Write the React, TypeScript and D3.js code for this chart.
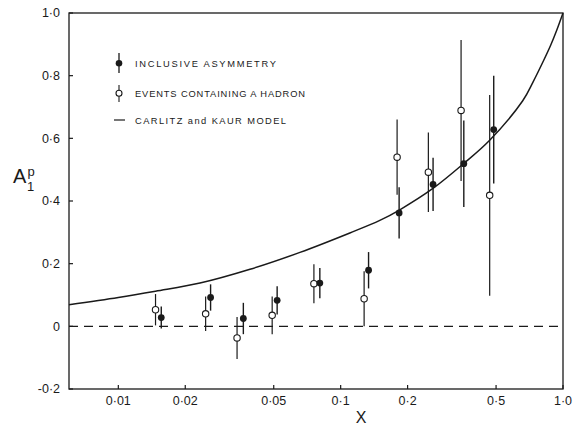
import React from "react";
import * as d3 from "d3";

const inclX = [0.0156, 0.026, 0.0365, 0.0518, 0.0806, 0.1335, 0.1832, 0.2604, 0.358, 0.488];
const inclY = [0.028, 0.092, 0.025, 0.083, 0.138, 0.179, 0.362, 0.453, 0.519, 0.628];
const inclErr = [0.035, 0.042, 0.05, 0.045, 0.048, 0.058, 0.082, 0.085, 0.138, 0.172];

const hadX = [0.0147, 0.0247, 0.0342, 0.0492, 0.0758, 0.1275, 0.1794, 0.248, 0.348, 0.468];
const hadY = [0.053, 0.04, -0.037, 0.035, 0.136, 0.088, 0.54, 0.492, 0.689, 0.418];
const hadErr = [0.05, 0.055, 0.067, 0.06, 0.062, 0.088, 0.12, 0.127, 0.225, 0.32];

const modelX = [0.006, 0.01, 0.0147, 0.0233, 0.0391, 0.0656, 0.11, 0.15, 0.1845, 0.26, 0.358, 0.468, 0.659, 0.731, 0.81, 0.881, 0.937, 1.0];
const modelY = [0.069, 0.092, 0.112, 0.138, 0.182, 0.236, 0.298, 0.338, 0.372, 0.44, 0.52, 0.594, 0.72, 0.778, 0.842, 0.898, 0.945, 1.0];

const xTicks = [0.01, 0.02, 0.05, 0.1, 0.2, 0.5, 1.0];
const xTickLabels = ["0·01", "0·02", "0·05", "0·1", "0·2", "0·5", "1·0"];
const yTicks = [-0.2, 0, 0.2, 0.4, 0.6, 0.8, 1.0];
const yTickLabels = ["-0·2", "0", "0·2", "0·4", "0·6", "0·8", "1·0"];

const legendLabels = ["INCLUSIVE ASYMMETRY", "EVENTS CONTAINING A HADRON", "CARLITZ and KAUR MODEL"];
const legendWidths = [141, 170, 151];

const W = 582, H = 425;
const L = 69, R = 563, T = 13, B = 389;
const font = "'Liberation Sans', Arial, Helvetica, sans-serif";
const ink = "#1a1a1a";

export default function App() {
  const x = d3.scaleLog().domain([0.006, 1.0]).range([L, R]);
  const y = d3.scaleLinear().domain([-0.2, 1.0]).range([B, T]);
  const line = d3
    .line<number>()
    .x((_, i) => x(modelX[i]))
    .y((d) => y(d))
    .curve(d3.curveCatmullRom.alpha(0.5));

  return (
    <svg width={W} height={H} style={{ position: "absolute", left: 0, top: 0, background: "#fff" }} fontFamily={font}>
      <rect x={L} y={T} width={R - L} height={B - T} fill="none" stroke={ink} strokeWidth={1.3} />
      <line x1={L} x2={R} y1={y(0)} y2={y(0)} stroke={ink} strokeWidth={1.2} strokeDasharray="9 6" />
      {yTicks.map((t, i) => (
        <g key={"y" + i}>
          <line x1={L} x2={L + 4} y1={y(t)} y2={y(t)} stroke={ink} strokeWidth={1.2} />
          <text x={L - 9} y={y(t)} dy="0.35em" textAnchor="end" fontSize={12.5} fill={ink}>
            {yTickLabels[i]}
          </text>
        </g>
      ))}
      {xTicks.map((t, i) => (
        <g key={"x" + i}>
          <line x1={x(t)} x2={x(t)} y1={B} y2={B - 4} stroke={ink} strokeWidth={1.2} />
          <text x={x(t)} y={405} textAnchor="middle" fontSize={12.5} fill={ink}>
            {xTickLabels[i]}
          </text>
        </g>
      ))}
      <text x={361} y={423} textAnchor="middle" fontSize={16} fill={ink}>X</text>
      <text x={13} y={183} fontSize={20} fill={ink}>A</text>
      <text x={27} y={191} fontSize={13} fill={ink}>1</text>
      <text x={27.5} y={176} fontSize={13} fill={ink}>p</text>
      <path d={line(modelY) || ""} fill="none" stroke={ink} strokeWidth={1.5} />
      {hadX.map((xv, i) => (
        <g key={"h" + i}>
          <line x1={x(xv)} x2={x(xv)} y1={y(hadY[i] + hadErr[i])} y2={y(hadY[i] - hadErr[i])} stroke={ink} strokeWidth={1.2} />
          <circle cx={x(xv)} cy={y(hadY[i])} r={3.2} fill="#fff" stroke={ink} strokeWidth={1.1} />
        </g>
      ))}
      {inclX.map((xv, i) => (
        <g key={"c" + i}>
          <line x1={x(xv)} x2={x(xv)} y1={y(inclY[i] + inclErr[i])} y2={y(inclY[i] - inclErr[i])} stroke={ink} strokeWidth={1.4} />
          <circle cx={x(xv)} cy={y(inclY[i])} r={3.4} fill={ink} />
        </g>
      ))}
      <g>
        <line x1={119} x2={119} y1={53} y2={73} stroke={ink} strokeWidth={1.3} />
        <circle cx={119} cy={63.3} r={3.3} fill={ink} />
        <text x={135} y={66.8} fontSize={9.3} textLength={legendWidths[0]} lengthAdjust="spacing" fill={ink}>{legendLabels[0]}</text>
        <line x1={119} x2={119} y1={85} y2={102} stroke={ink} strokeWidth={1.1} />
        <circle cx={119} cy={93.3} r={3} fill="#fff" stroke={ink} strokeWidth={1.1} />
        <text x={135} y={96.8} fontSize={9.3} textLength={legendWidths[1]} lengthAdjust="spacing" fill={ink}>{legendLabels[1]}</text>
        <line x1={114} x2={125} y1={120} y2={120} stroke={ink} strokeWidth={1.2} />
        <text x={135} y={123.5} fontSize={9.3} textLength={legendWidths[2]} lengthAdjust="spacing" fill={ink}>{legendLabels[2]}</text>
      </g>
    </svg>
  );
}
